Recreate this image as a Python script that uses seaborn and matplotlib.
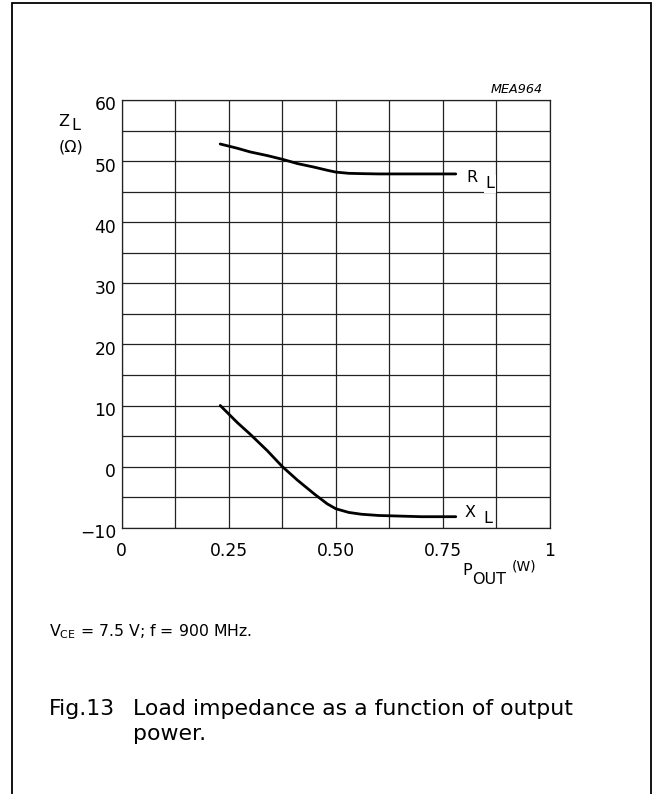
import matplotlib
matplotlib.use('Agg')
import matplotlib.pyplot as plt
import seaborn as sns
import pandas as pd
import numpy as np
from matplotlib.transforms import ScaledTranslation
from matplotlib.patches import Rectangle

# ---- data ----
p_out_r = [0.23, 0.27, 0.30, 0.34, 0.375, 0.41, 0.45, 0.48, 0.50, 0.53, 0.56, 0.60, 0.70, 0.78]
r_l = [52.8, 52.1, 51.5, 50.9, 50.3, 49.6, 49.0, 48.5, 48.2, 48.0, 47.95, 47.9, 47.9, 47.9]

p_out_x = [0.23, 0.27, 0.30, 0.34, 0.375, 0.41, 0.45, 0.48, 0.50, 0.53, 0.56, 0.60, 0.65, 0.70, 0.78]
x_l = [10.0, 7.2, 5.3, 2.6, 0.0, -2.2, -4.5, -6.1, -6.9, -7.5, -7.8, -8.0, -8.1, -8.2, -8.2]

x_ticks = [0, 0.25, 0.5, 0.75, 1.0]
x_tick_labels = ['0', '0.25', '0.50', '0.75', '1']
y_ticks = [-10, 0, 10, 20, 30, 40, 50, 60]
y_tick_labels = ['\u221210', '0', '10', '20', '30', '40', '50', '60']

sns.set_theme(style='white')
plt.rcParams['font.family'] = ['DejaVu Sans']
plt.rcParams['mathtext.fontset'] = 'dejavusans'
plt.rcParams['text.color'] = 'black'

W, H = 656, 794
fig = plt.figure(figsize=(W / 100, H / 100), dpi=100)
fig.patch.set_facecolor('white')


def fx(x):
    return x / W


def fy(y):
    return 1 - y / H


# outer frame
fig.add_artist(Rectangle((fx(11.5), fy(830)), fx(651) - fx(11.5), fy(3) - fy(830),
                         transform=fig.transFigure, fill=False, lw=1.3, ec='black'))

ax = fig.add_axes([fx(121.7), fy(527.7), fx(550) - fx(121.7), fy(100) - fy(527.7)])

df_r = pd.DataFrame({'P': p_out_r, 'Z': r_l})
df_x = pd.DataFrame({'P': p_out_x, 'Z': x_l})
sns.lineplot(data=df_r, x='P', y='Z', ax=ax, color='black', lw=2.0, estimator=None)
sns.lineplot(data=df_x, x='P', y='Z', ax=ax, color='black', lw=2.0, estimator=None)

ax.set_xlim(0, 1)
ax.set_ylim(-10, 60)
ax.set_xticks(x_ticks)
ax.set_xticklabels(x_tick_labels)
ax.set_xticks(np.arange(0, 1.0001, 0.125), minor=True)
ax.set_yticks(y_ticks)
ax.set_yticklabels(y_tick_labels)
ax.set_yticks(np.arange(-10, 60.001, 5), minor=True)
ax.grid(which='both', color='#222222', lw=0.9)
ax.set_axisbelow(True)
for s in ax.spines.values():
    s.set_color('#222222')
    s.set_linewidth(0.9)
ax.tick_params(which='both', length=0)
ax.tick_params(axis='x', labelsize=12.3, pad=10, colors='black')
ax.tick_params(axis='y', labelsize=12.3, pad=4, colors='black')
off = ScaledTranslation(0, -3.5 / 100, fig.dpi_scale_trans)
for lab in ax.get_yticklabels():
    lab.set_transform(lab.get_transform() + off)
ax.set_xlabel('')
ax.set_ylabel('')

# texts
fig.text(fx(543), fy(92.7), 'MEA964', ha='right', va='baseline', fontsize=9.2, style='italic')
fig.text(fx(58), fy(125.7), 'Z', ha='left', va='baseline', fontsize=11.5)
fig.text(fx(71.7), fy(130), 'L', ha='left', va='baseline', fontsize=11.5)
fig.text(fx(59), fy(147.5), '(\u03a9)', ha='left', va='center', fontsize=11.5)

fig.text(fx(466.7), fy(182.3), 'R', ha='left', va='baseline', fontsize=11.5)
fig.text(fx(485.7), fy(188.3), 'L', ha='left', va='baseline', fontsize=11.5,
         bbox=dict(fc='white', ec='none', pad=1.0))
fig.text(fx(465), fy(516.7), 'X', ha='left', va='baseline', fontsize=11.5)
fig.text(fx(483), fy(523), 'L', ha='left', va='baseline', fontsize=11.5)

fig.text(fx(462), fy(575), 'P', ha='left', va='baseline', fontsize=11.5)
fig.text(fx(472), fy(584), 'OUT', ha='left', va='baseline', fontsize=11.5)
fig.text(fx(512), fy(570), '(W)', ha='left', va='baseline', fontsize=10)

fig.text(fx(49), fy(636), 'V$_{\\mathregular{CE}}$ = 7.5 V; f = 900 MHz.', ha='left', va='baseline',
         fontsize=11.3)

fig.text(fx(49), fy(715), 'Fig.13', ha='left', va='baseline', fontsize=15.8)
fig.text(fx(133), fy(715), 'Load impedance as a function of output', ha='left', va='baseline',
         fontsize=15.8)
fig.text(fx(133), fy(740), 'power.', ha='left', va='baseline', fontsize=15.8)

fig.savefig('out.png', dpi=100, facecolor='white')
